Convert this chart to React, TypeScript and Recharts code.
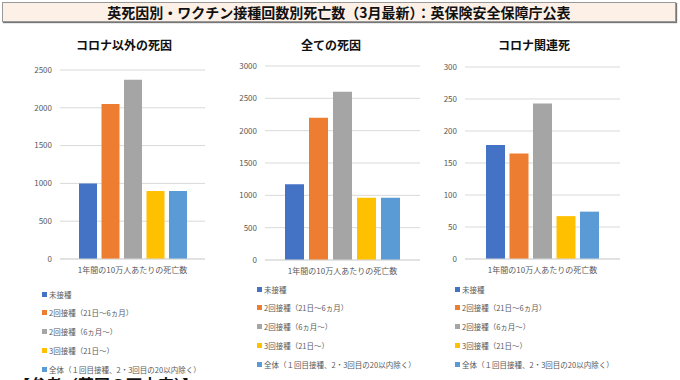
import React from 'react';
import { BarChart, Bar, XAxis, YAxis, CartesianGrid, Legend } from 'recharts';

const mainTitle = '英死因別・ワクチン接種回数別死亡数（3月最新）：英保険安全保障庁公表';
const footnote = '【参考（英国の死亡率）】';
const categoryLabel = '1年間の10万人あたりの死亡数';
const seriesNames = [
  '未接種',
  '2回接種（21日～6ヵ月）',
  '2回接種（6ヵ月～）',
  '3回接種（21日～）',
  '全体（１回目接種、2・3回目の20以内除く）',
];
const seriesColors = ['#4472C4', '#ED7D31', '#A5A5A5', '#FFC000', '#5B9BD5'];

const panelTitles = ['コロナ以外の死因', '全ての死因', 'コロナ関連死'];
const nonCovidValues = [1000, 2050, 2370, 900, 900];
const allCauseValues = [1170, 2200, 2600, 962, 962];
const covidValues = [178, 165, 243, 67, 74];
const nonCovidTicks = [0, 500, 1000, 1500, 2000, 2500];
const allCauseTicks = [0, 500, 1000, 1500, 2000, 2500, 3000];
const covidTicks = [0, 50, 100, 150, 200, 250, 300];

const FONT = '"Noto Sans CJK JP", "Noto Sans", sans-serif';

type PanelProps = {
  title: string;
  values: number[];
  ticks: number[];
  left: number;
  titleCenter: number;
  marginTop: number;
  marginRight: number;
  marginBottom: number;
  barSize: number;
  barGap: number;
  legendLeft: number;
  legendTop: number;
};

const LegendContent = () => (
  <div style={{ fontFamily: FONT, fontSize: 7.5, color: '#595959' }}>
    {seriesNames.map((n, i) => (
      <div
        key={n}
        style={{
          height: 9,
          lineHeight: '9px',
          marginBottom: 9.75,
          display: 'flex',
          alignItems: 'center',
          whiteSpace: 'nowrap',
        }}
      >
        <span style={{ display: 'inline-block', width: 5, height: 5, background: seriesColors[i], marginRight: 2 }} />
        <span>{n}</span>
      </div>
    ))}
  </div>
);

const Panel = (p: PanelProps) => {
  const row: Record<string, string | number> = { name: categoryLabel };
  p.values.forEach((v, i) => {
    row['s' + i] = v;
  });
  const data = [row];
  return (
    <div style={{ position: 'absolute', left: p.left, top: 0, width: 230, height: 380 }}>
      <div
        style={{
          position: 'absolute',
          left: p.titleCenter - p.left - 80,
          width: 160,
          top: 36,
          textAlign: 'center',
          fontFamily: FONT,
          fontWeight: 'bold',
          fontSize: 12,
          lineHeight: '18px',
          color: '#111',
        }}
      >
        {p.title}
      </div>
      <BarChart
        width={230}
        height={380}
        data={data}
        margin={{ top: p.marginTop, right: p.marginRight, bottom: p.marginBottom, left: 0 }}
        barSize={p.barSize}
        barGap={p.barGap}
      >
        <CartesianGrid vertical={false} stroke="#d9d9d9" />
        <XAxis
          dataKey="name"
          height={30}
          tickLine={false}
          axisLine={{ stroke: '#d9d9d9' }}
          tick={{ fontSize: 8, fill: '#595959', fontFamily: FONT }}
        />
        <YAxis
          width={60}
          domain={[p.ticks[0], p.ticks[p.ticks.length - 1]]}
          ticks={p.ticks}
          axisLine={false}
          tickLine={false}
          tick={{ fontSize: 8, fill: '#595959', fontFamily: FONT }}
        />
        {seriesNames.map((n, i) => (
          <Bar key={n} dataKey={'s' + i} name={n} fill={seriesColors[i]} isAnimationActive={false} />
        ))}
        <Legend
          content={<LegendContent />}
          wrapperStyle={{ left: p.legendLeft - p.left, top: p.legendTop, width: 220, height: 0, overflow: 'visible' }}
        />
      </BarChart>
    </div>
  );
};

export default function App() {
  return (
    <div
      style={{
        position: 'absolute',
        left: 0,
        top: 0,
        width: 680,
        height: 380,
        overflow: 'hidden',
        background: '#fff',
      }}
    >
      <div
        style={{
          position: 'absolute',
          left: 2,
          top: 2,
          width: 672,
          height: 18,
          background: '#fdf0e6',
          border: '1px solid #999',
          boxShadow: '1px 1px 1px #777',
          textAlign: 'center',
          fontFamily: FONT,
          fontWeight: 'bold',
          fontSize: 14,
          lineHeight: '18px',
          color: '#111',
        }}
      >
        {mainTitle}
      </div>
      <Panel
        title={panelTitles[0]}
        values={nonCovidValues}
        ticks={nonCovidTicks}
        left={0}
        titleCenter={124}
        marginTop={70}
        marginRight={25}
        marginBottom={91}
        barSize={18}
        barGap={4.5}
        legendLeft={42}
        legendTop={289.5}
      />
      <Panel
        title={panelTitles[1]}
        values={allCauseValues}
        ticks={allCauseTicks}
        left={205}
        titleCenter={331}
        marginTop={66}
        marginRight={15}
        marginBottom={90}
        barSize={19}
        barGap={5}
        legendLeft={257}
        legendTop={284.5}
      />
      <Panel
        title={panelTitles[2]}
        values={covidValues}
        ticks={covidTicks}
        left={405}
        titleCenter={534}
        marginTop={67}
        marginRight={15}
        marginBottom={91}
        barSize={19}
        barGap={4.5}
        legendLeft={455}
        legendTop={284.5}
      />
      <div
        style={{
          position: 'absolute',
          left: 14,
          top: 376,
          fontFamily: FONT,
          fontWeight: 'bold',
          fontSize: 16,
          lineHeight: '16px',
          color: '#111',
          whiteSpace: 'nowrap',
        }}
      >
        {footnote}
      </div>
    </div>
  );
}
